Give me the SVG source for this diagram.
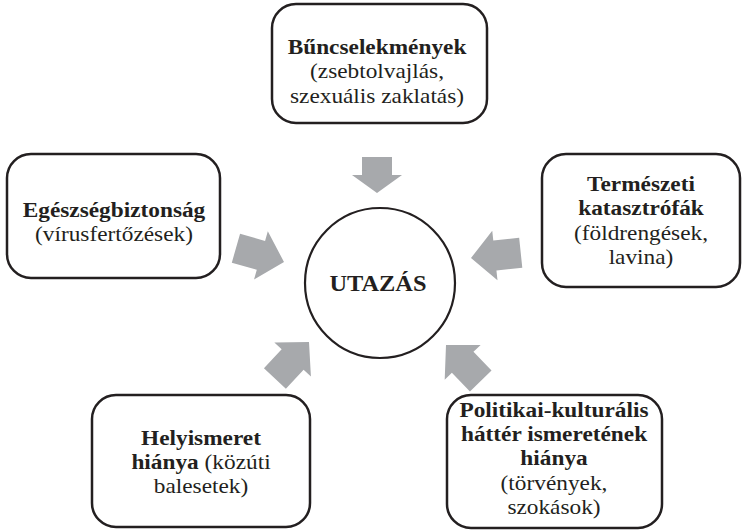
<svg xmlns="http://www.w3.org/2000/svg" width="744" height="531" viewBox="0 0 744 531">
<style>
.box{fill:#fff;stroke:#231f20;stroke-width:2.5}
.t{font-family:"Liberation Serif","Times New Roman",serif;font-size:22px;fill:#231f20;text-anchor:middle}
.b{font-weight:bold}
.arr{fill:#a7a9ac;stroke:none}
</style>
<defs>
<path id="arrow" d="M0,0 L-24,-25 L-24,-15 L-50,-15 L-50,15 L-24,15 L-24,25 Z"/>
<path id="arrowS" d="M0,0 L-18,-25 L-18,-15 L-36,-15 L-36,15 L-18,15 L-18,25 Z"/>
</defs>
<rect width="744" height="531" fill="#fff"/>
<g id="connectors" class="arr">
<use href="#arrowS" transform="translate(377,193) rotate(90)"/>
<use href="#arrow" transform="translate(284,262) rotate(16)"/>
<use href="#arrow" transform="translate(471,258) rotate(174)"/>
<use href="#arrow" transform="translate(309,342) rotate(-47)"/>
<use href="#arrow" transform="translate(446,345) rotate(-134)"/>
</g>
<g id="utazas">
<circle cx="380" cy="283" r="75" fill="#fff" stroke="#231f20" stroke-width="2.2"/>
<g transform="translate(378,0) scale(1.06,1)"><text class="t b" x="0" y="291" style="font-size:23px">UTAZÁS</text></g>
</g>
<g id="buncselekmenyek">
<rect class="box" x="272" y="4" width="215" height="119" rx="24"/>
<g transform="translate(377,0) scale(1.06,1)">
<text class="t b" x="0" y="54">Bűncselekmények</text>
<text class="t" x="0" y="78">(zsebtolvajlás,</text>
<text class="t" x="0" y="103">szexuális zaklatás)</text>
</g>
</g>
<g id="egeszsegbiztonsag">
<rect class="box" x="7" y="154" width="213" height="124" rx="24"/>
<g transform="translate(114,0) scale(1.06,1)">
<text class="t b" x="0" y="217">Egészségbiztonság</text>
<text class="t" x="0" y="241">(vírusfertőzések)</text>
</g>
</g>
<g id="termeszeti">
<rect class="box" x="542" y="154" width="198" height="133" rx="24"/>
<g transform="translate(641,0) scale(1.06,1)">
<text class="t b" x="0" y="191">Természeti</text>
<text class="t b" x="0" y="215">katasztrófák</text>
<text class="t" x="0" y="240">(földrengések,</text>
<text class="t" x="0" y="264">lavina)</text>
</g>
</g>
<g id="helyismeret">
<rect class="box" x="92" y="395" width="218" height="132" rx="24"/>
<g transform="translate(201,0) scale(1.06,1)">
<text class="t b" x="0" y="445">Helyismeret</text>
<text class="t" x="0" y="469"><tspan class="b">hiánya</tspan> (közúti</text>
<text class="t" x="0" y="493">balesetek)</text>
</g>
</g>
<g id="politikai">
<rect class="box" x="447" y="395" width="215" height="133" rx="24"/>
<g transform="translate(554,0) scale(1.06,1)">
<text class="t b" x="0" y="417">Politikai-kulturális</text>
<text class="t b" x="0" y="441">háttér ismeretének</text>
<text class="t b" x="0" y="465">hiánya</text>
<text class="t" x="0" y="490">(törvények,</text>
<text class="t" x="0" y="514">szokások)</text>
</g>
</g>
</svg>
